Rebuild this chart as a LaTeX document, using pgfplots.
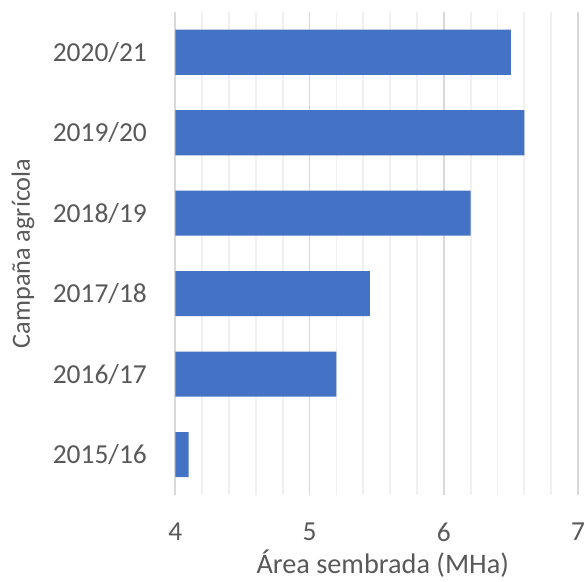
\documentclass[border=0pt]{standalone}
\usepackage{fontspec}
\setmainfont{Carlito}
\usepackage{pgfplots}
\pgfplotsset{compat=1.18}
\definecolor{barblue}{HTML}{4472C4}
\definecolor{txtgray}{HTML}{595959}
\definecolor{majgrid}{HTML}{D9D9D9}
\definecolor{mingrid}{HTML}{F0F0F0}
\begin{document}
\begin{tikzpicture}
\begin{axis}[
    scale only axis,
    width=201pt,
    height=241pt,
    xbar,
    bar width=0.56,
    xmin=4, xmax=7,
    ymin=0.5, ymax=6.5,
    xtick={4,5,6,7},
    minor x tick num=4,
    ytick={1,...,6},
    yticklabels={2015/16,2016/17,2017/18,2018/19,2019/20,2020/21},
    xmajorgrids, xminorgrids,
    major grid style={majgrid, line width=0.9pt},
    minor grid style={mingrid, line width=0.9pt},
    axis x line*=bottom,
    axis y line*=left,
    x axis line style={draw=none},
    y axis line style={draw=majgrid, line width=0.9pt},
    tick style={draw=none},
    major tick length=0pt,
    minor tick length=0pt,
    ticklabel style={font=\fontsize{13.7}{16}\selectfont, text=txtgray, inner sep=0pt},
    label style={text=txtgray, inner sep=0pt},
    /pgf/number format/assume math mode=true,
    xlabel={Área sembrada (MHa)},
    ylabel={Campaña agrícola},
    yticklabel style={xshift=-14pt},
    xticklabel style={yshift=-13.8pt},
    xlabel style={font=\fontsize{14.1}{16}\selectfont, at={(axis description cs:0.5,0)}, anchor=base, yshift=-39pt, xshift=3pt},
    ylabel style={font=\fontsize{13.1}{16}\selectfont, at={(axis description cs:-0.378,0.5)}, anchor=center},
]
\addplot[fill=barblue, draw=none] coordinates {
  (4.1,1) (5.2,2) (5.45,3) (6.2,4) (6.6,5) (6.5,6)};
\end{axis}
\path ([yshift=6pt]current axis.north);
\path ([xshift=-87.5pt]current axis.south west);
\path ([yshift=-43pt]current axis.south);
\end{tikzpicture}
\end{document}
